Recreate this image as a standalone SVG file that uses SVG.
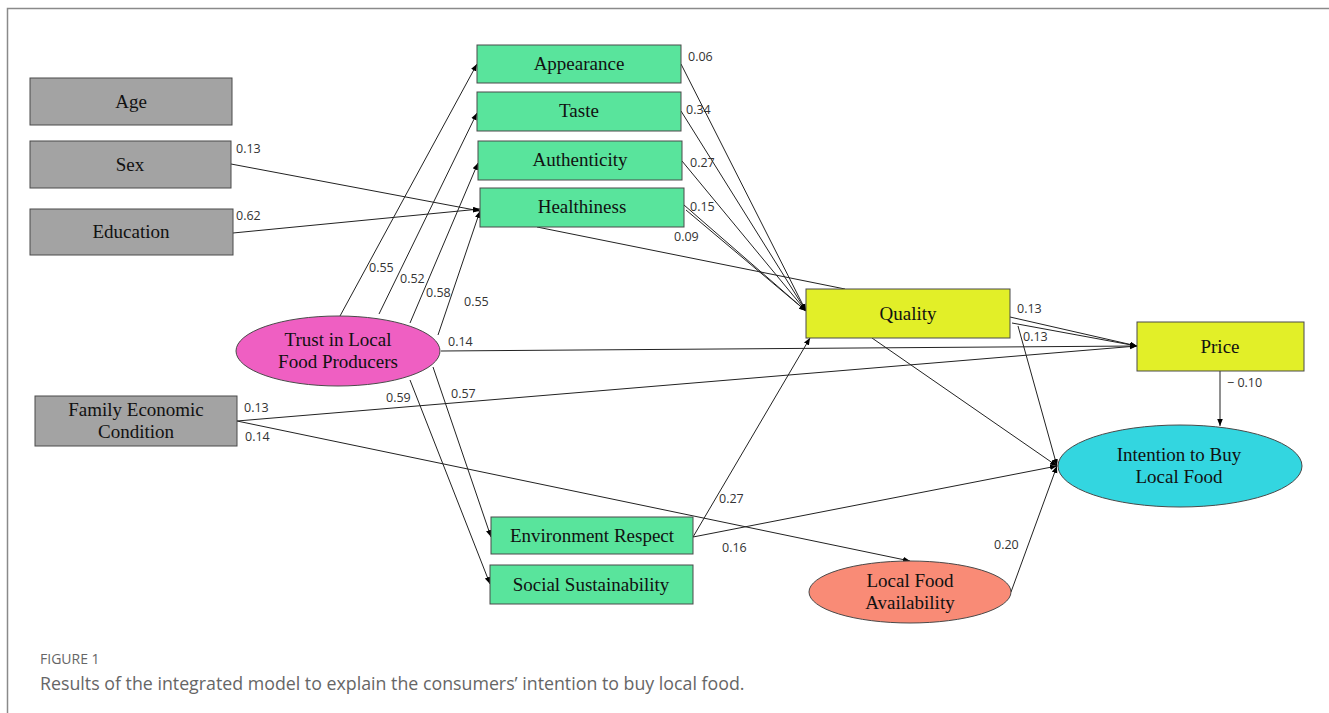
<svg xmlns="http://www.w3.org/2000/svg" width="1329" height="713" viewBox="0 0 1329 713">
<defs>
<marker id="ah" viewBox="0 0 10 10" refX="10" refY="5" markerWidth="7" markerHeight="7" markerUnits="userSpaceOnUse" orient="auto">
<path d="M0,1 L10,5 L0,9 z" fill="#000"/>
</marker>
<style>
.gray{fill:#a3a3a3;stroke:#4a4a4a;stroke-width:1}
.green{fill:#59e49c;stroke:#4a4a4a;stroke-width:1}
.yellow{fill:#e2ef28;stroke:#4a4a4a;stroke-width:1}
.nt{font-family:"Liberation Serif","DejaVu Serif",serif;font-size:19px;fill:#111;text-anchor:middle}
.lb{font-family:"Open Sans","Liberation Sans",sans-serif;font-size:12.5px;fill:#333}
.e{fill:none;stroke:#222;stroke-width:1}
.a{fill:none;stroke:#222;stroke-width:1;marker-end:url(#ah)}
.cap1{font-family:"Open Sans","Liberation Sans",sans-serif;font-size:14px;fill:#666}
.cap2{font-family:"Open Sans","Liberation Sans",sans-serif;font-size:17.8px;fill:#666}
</style>
</defs>
<rect x="0" y="0" width="1329" height="713" fill="#fff"/>
<path d="M7.5,713 V8.5 H1329" fill="none" stroke="#8a8a8a" stroke-width="1.5"/>

<g id="connectors">
<path class="a" d="M231,164 L480,211"/>
<path class="a" d="M233,233 L480,209"/>
<path class="a" d="M340,316 L477,64"/>
<path class="a" d="M379,314 L477,113"/>
<path class="a" d="M410,323 L478,163"/>
<path class="a" d="M438,335 L480,211"/>
<path class="a" d="M441,351 L1137,346"/>
<path class="a" d="M433,367 L491,537"/>
<path class="a" d="M410,380 L490,584"/>
<path class="a" d="M237,421 L1137,346"/>
<path class="a" d="M237,421 L910,561"/>
<path class="a" d="M681,64 L806,311"/>
<path class="a" d="M681,111 L806,311"/>
<path class="a" d="M682,161 L806,311"/>
<path class="a" d="M684,205 L806,311"/>
<path class="a" d="M686,210 L806,311"/>
<path class="e" d="M537,227 L845,289"/>
<path class="a" d="M1010,317 L1137,346"/>
<path class="a" d="M1012,323 L1137,346"/>
<path class="a" d="M1018,326 L1057,466"/>
<path class="a" d="M872,338 L1057,466"/>
<path class="a" d="M693,537 L810,338"/>
<path class="a" d="M693,537 L1057,466"/>
<path class="a" d="M1011,592 L1057,466"/>
<path class="a" d="M1220,371 L1220,426"/>
</g>

<g id="edge-labels">
<text class="lb" x="236" y="153">0.13</text>
<text class="lb" x="236" y="220">0.62</text>
<text class="lb" x="369" y="272">0.55</text>
<text class="lb" x="400" y="283">0.52</text>
<text class="lb" x="426" y="297">0.58</text>
<text class="lb" x="464" y="306">0.55</text>
<text class="lb" x="448" y="346">0.14</text>
<text class="lb" x="451" y="398">0.57</text>
<text class="lb" x="386" y="402">0.59</text>
<text class="lb" x="244" y="412">0.13</text>
<text class="lb" x="245" y="441">0.14</text>
<text class="lb" x="688" y="61">0.06</text>
<text class="lb" x="686" y="114">0.34</text>
<text class="lb" x="690" y="167">0.27</text>
<text class="lb" x="690" y="211">0.15</text>
<text class="lb" x="674" y="241">0.09</text>
<text class="lb" x="1017" y="313">0.13</text>
<text class="lb" x="1023" y="341">0.13</text>
<text class="lb" x="719" y="503">0.27</text>
<text class="lb" x="722" y="552">0.16</text>
<text class="lb" x="994" y="549">0.20</text>
<text class="lb" x="1227" y="387">− 0.10</text>
</g>

<g id="age"><rect class="gray" x="30" y="78" width="202" height="47"/><text class="nt" x="131" y="108">Age</text></g>
<g id="sex"><rect class="gray" x="30" y="141" width="201" height="47"/><text class="nt" x="130" y="171">Sex</text></g>
<g id="education"><rect class="gray" x="30" y="209" width="203" height="46"/><text class="nt" x="131" y="238">Education</text></g>
<g id="family"><rect class="gray" x="35" y="396" width="202" height="50"/><text class="nt" x="136" y="416">Family Economic</text><text class="nt" x="136" y="438">Condition</text></g>

<g id="appearance"><rect class="green" x="477" y="45" width="204" height="38"/><text class="nt" x="579" y="70">Appearance</text></g>
<g id="taste"><rect class="green" x="477" y="92" width="204" height="39"/><text class="nt" x="579" y="117">Taste</text></g>
<g id="authenticity"><rect class="green" x="478" y="141" width="204" height="39"/><text class="nt" x="580" y="166">Authenticity</text></g>
<g id="healthiness"><rect class="green" x="480" y="188" width="204" height="39"/><text class="nt" x="582" y="213">Healthiness</text></g>

<g id="trust"><ellipse cx="338" cy="351" rx="102" ry="35" fill="#ef5fc2" stroke="#4a4a4a" stroke-width="1"/><text class="nt" x="338" y="346">Trust in Local</text><text class="nt" x="338" y="368">Food Producers</text></g>

<g id="quality"><rect class="yellow" x="806" y="289" width="204" height="49"/><text class="nt" x="908" y="320">Quality</text></g>
<g id="price"><rect class="yellow" x="1137" y="322" width="167" height="49"/><text class="nt" x="1220" y="353">Price</text></g>

<g id="intention"><ellipse cx="1180" cy="466" rx="122" ry="41" fill="#33d6e0" stroke="#4a4a4a" stroke-width="1"/><text class="nt" x="1179" y="461">Intention to Buy</text><text class="nt" x="1179" y="483">Local Food</text></g>

<g id="environment"><rect class="green" x="491" y="517" width="202" height="37"/><text class="nt" x="592" y="542">Environment Respect</text></g>
<g id="social"><rect class="green" x="490" y="565" width="203" height="39"/><text class="nt" x="591" y="591">Social Sustainability</text></g>

<g id="availability"><ellipse cx="910" cy="592" rx="101" ry="31" fill="#f98b76" stroke="#4a4a4a" stroke-width="1"/><text class="nt" x="910" y="587">Local Food</text><text class="nt" x="910" y="609">Availability</text></g>

<g id="caption">
<text class="cap1" x="40" y="664">FIGURE 1</text>
<text class="cap2" x="40" y="690">Results of the integrated model to explain the consumers’ intention to buy local food.</text>
</g>
</svg>
